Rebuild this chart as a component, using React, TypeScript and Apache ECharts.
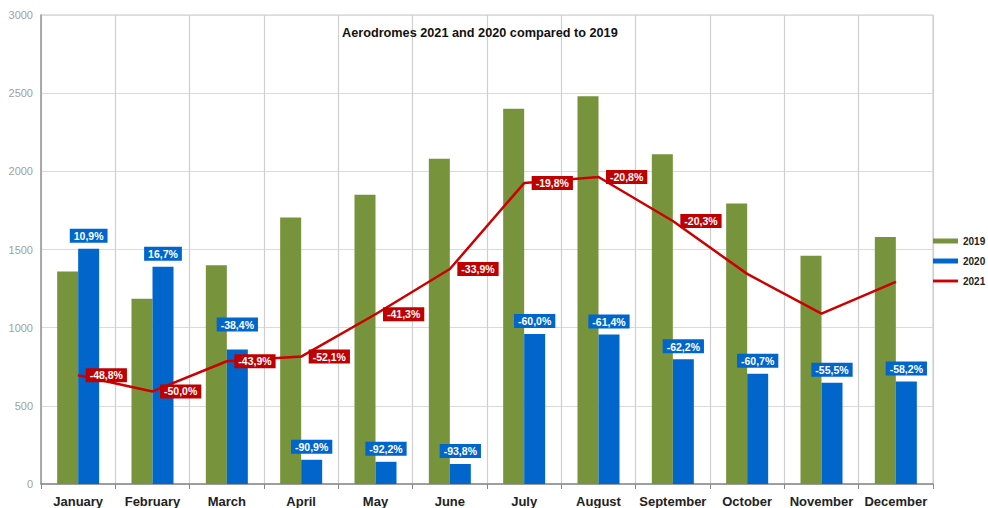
import React, { useEffect, useRef } from "react";
import * as echarts from "echarts";

const months = ["January", "February", "March", "April", "May", "June", "July", "August", "September", "October", "November", "December"];
const values2019 = [1360, 1185, 1400, 1705, 1850, 2080, 2400, 2480, 2110, 1795, 1460, 1580];
const values2020 = [1505, 1390, 860, 155, 142, 128, 960, 957, 798, 705, 648, 655];
const values2021 = [696, 592, 785, 815, 1086, 1375, 1925, 1964, 1682, 1344, 1090, 1293];
const labels2020 = ["10,9%", "16,7%", "-38,4%", "-90,9%", "-92,2%", "-93,8%", "-60,0%", "-61,4%", "-62,2%", "-60,7%", "-55,5%", "-58,2%"];
const labels2021 = ["-48,8%", "-50,0%", "-43,9%", "-52,1%", "-41,3%", "-33,9%", "-19,8%", "-20,8%", "-20,3%", null, null, null];
const yTicks = { min: 0, max: 3000, interval: 500 };

const FONT = "'Liberation Sans', Arial, sans-serif";

export default function App() {
  const ref = useRef<HTMLDivElement>(null);
  useEffect(() => {
    if (!ref.current) return;
    const chart = echarts.init(ref.current, null, { renderer: "svg" });
    const boxLabel = (bg: string) => ({
      backgroundColor: bg,
      color: "#fff",
      fontWeight: "bold",
      fontSize: 10.5,
      fontFamily: FONT,
      padding: [2, 4, 1, 4],
    });
    chart.setOption({
      animation: false,
      textStyle: { fontFamily: FONT },
      title: {
        text: "Aerodromes 2021 and 2020 compared to 2019",
        left: 337,
        top: 21,
        textStyle: { fontSize: 12.7, fontWeight: "bold", color: "#111", fontFamily: FONT },
      },
      legend: {
        orient: "vertical",
        left: 933,
        top: 235,
        padding: 0,
        itemWidth: 25,
        itemHeight: 5,
        itemGap: 8,
        textStyle: { fontSize: 10, fontWeight: "bold", color: "#222", lineHeight: 12 },
        data: [
          { name: "2019", icon: "rect" },
          { name: "2020", icon: "rect" },
          { name: "2021", icon: "path://M0,0 L26,0 L26,3 L0,3 Z" },
        ],
      },
      grid: {
        left: 41,
        right: 55,
        top: 15,
        bottom: 22,
        show: true,
        borderColor: "#c8c8c8",
        borderWidth: 1,
      },
      xAxis: {
        type: "category",
        data: months,
        boundaryGap: true,
        axisLine: { lineStyle: { color: "#888", width: 1.5 } },
        axisTick: { show: true, length: 5, lineStyle: { color: "#888" } },
        axisLabel: { fontSize: 13, fontWeight: "bold", color: "#222", margin: 11, interval: 0 },
        splitLine: { show: true, lineStyle: { color: "#cfcfcf", width: 1.2 } },
      },
      yAxis: {
        type: "value",
        min: yTicks.min,
        max: yTicks.max,
        interval: yTicks.interval,
        axisLine: { show: true, lineStyle: { color: "#999", width: 1.5 } },
        axisTick: { show: false },
        axisLabel: { fontSize: 11, color: "#a0a0a0", margin: 8, formatter: (v: number) => String(v) },
        splitLine: { show: true, lineStyle: { color: "#dadada", width: 1 } },
      },
      series: [
        {
          name: "2019",
          type: "bar",
          data: values2019,
          barWidth: 21,
          barGap: "0%",
          itemStyle: { color: "#77933C" },
        },
        {
          name: "2020",
          type: "bar",
          data: values2020.map((v, i) => ({
            value: v,
            label: { show: true, formatter: labels2020[i], distance: i === 2 ? 18 : 6 },
          })),
          barWidth: 21,
          itemStyle: { color: "#0066CC" },
          label: { position: "top", distance: 6, ...boxLabel("#0066CC") },
        },
        {
          name: "2021",
          type: "line",
          data: values2021.map((v, i) => ({
            value: v,
            label: labels2021[i] ? { show: true, formatter: labels2021[i] } : { show: false },
          })),
          symbol: "circle",
          symbolSize: 1,
          showSymbol: true,
          lineStyle: { color: "#CC0000", width: 2.5 },
          itemStyle: { color: "#CC0000" },
          label: { position: "right", distance: 7, ...boxLabel("#C00000") },
          z: 5,
        },
      ],
    });
    return () => chart.dispose();
  }, []);
  return <div ref={ref} style={{ position: "fixed", left: 0, top: 0, width: 988, height: 508, background: "#fff" }} />;
}
